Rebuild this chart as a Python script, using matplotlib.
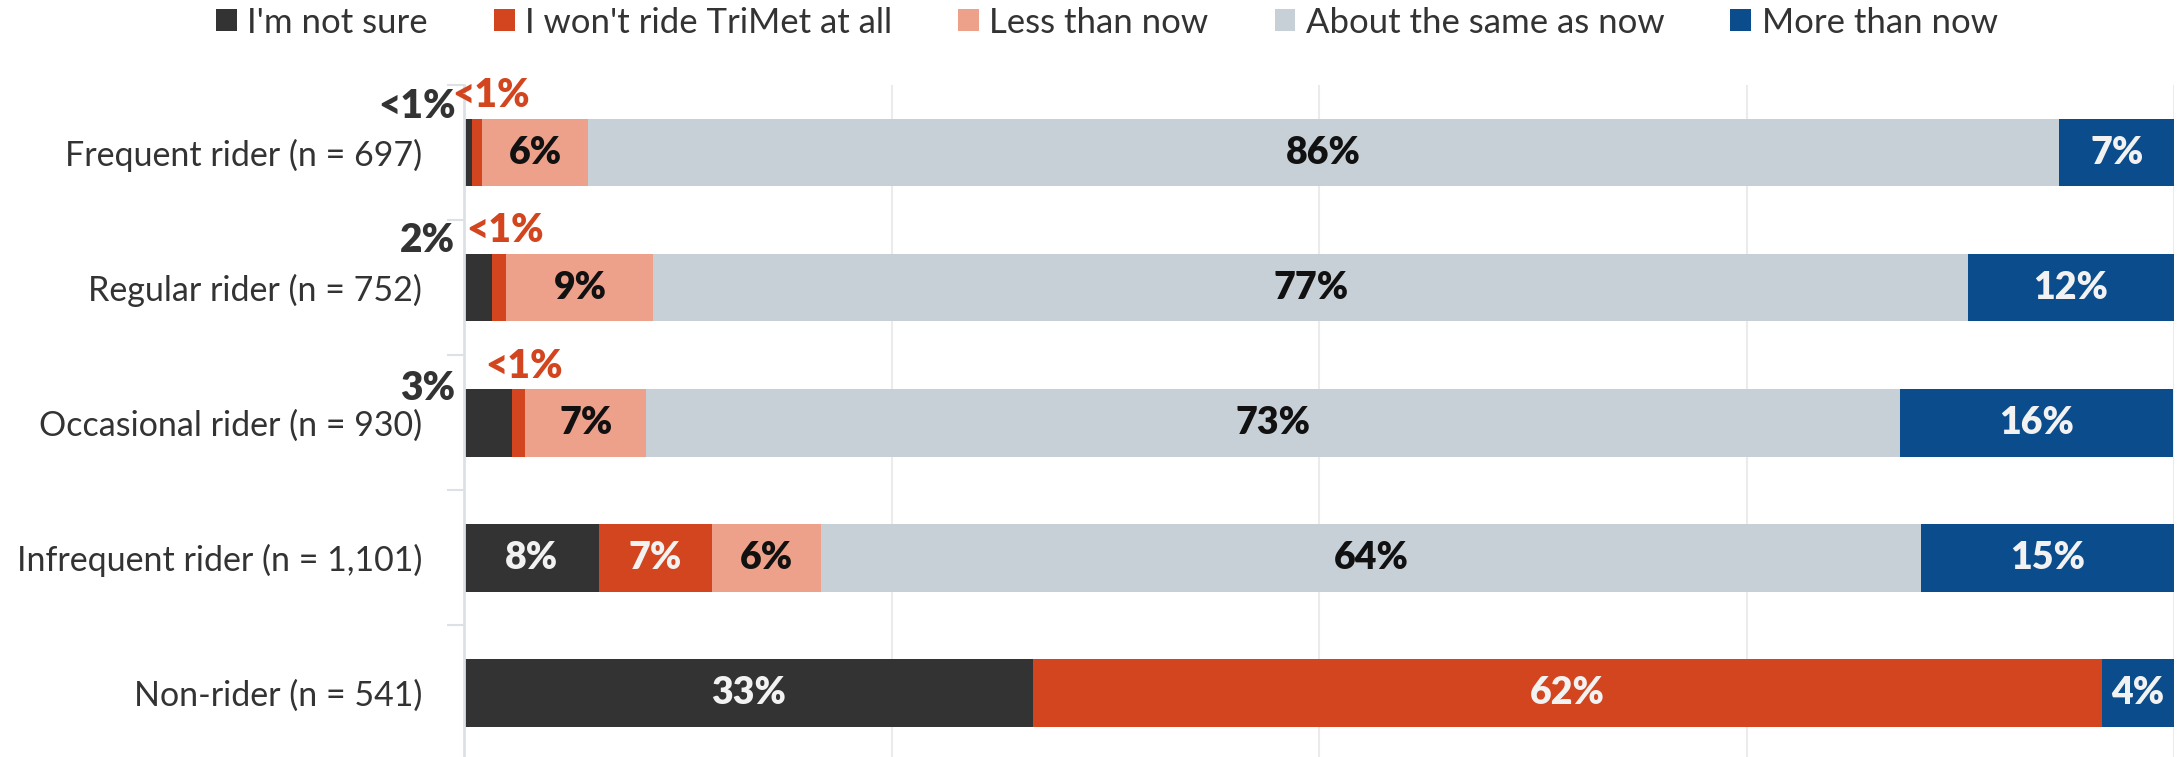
import matplotlib

matplotlib.use("Agg")

import matplotlib.pyplot as plt
from matplotlib.patches import Patch

plt.rcParams["font.family"] = ["Lato", "DejaVu Sans"]

riders = [
    "Frequent rider (n = 697)",
    "Regular rider (n = 752)",
    "Occasional rider (n = 930)",
    "Infrequent rider (n = 1,101)",
    "Non-rider (n = 541)",
]
answers = [
    "I'm not sure",
    "I won't ride TriMet at all",
    "Less than now",
    "About the same as now",
    "More than now",
]
not_sure = [0.47, 1.66, 2.83, 7.9, 33.3]
wont_ride = [0.58, 0.82, 0.74, 6.6, 62.5]
less = [6.2, 8.6, 7.1, 6.4, 0.0]
same = [86.05, 76.9, 73.3, 64.3, 0.0]
more = [6.7, 12.0, 16.0, 14.8, 4.2]

colors = ["#333333", "#D2451E", "#EDA08A", "#C8D0D7", "#0B4C8C"]
text_colors = ["#F2F2F2", "#F2F2F2", "#111111", "#111111", "#F2F2F2"]
series = [not_sure, wont_ride, less, same, more]


def pct_label(v):
    return "<1%" if v < 1 else f"{v:.0f}%"


fig = plt.figure(figsize=(21.83, 7.57), dpi=100)
ax = fig.add_axes([464 / 2183, 0.0, (2174 - 464) / 2183, (757 - 85) / 757])

ypos = list(range(len(riders)))
left = [0.0] * len(riders)
for vals, col, tcol in zip(series, colors, text_colors):
    ax.barh(ypos, vals, left=left, height=0.5, color=col, linewidth=0)
    for i, v in enumerate(vals):
        if v >= 4:
            ax.text(left[i] + v / 2, i, pct_label(v), ha="center", va="center",
                    color=tcol, fontsize=27, fontweight="heavy")
    left = [l + v for l, v in zip(left, vals)]

# small segments labelled above the bar
dark_offsets = [-0.34, -0.35, -0.25]
red_x = [1.6, 2.4, 3.5]
for i in range(3):
    ax.text(-0.5, i + dark_offsets[i], pct_label(not_sure[i]), ha="right", va="center",
            color="#333333", fontsize=28, fontweight="heavy")
    ax.text(red_x[i], i - 0.42, pct_label(wont_ride[i]), ha="center", va="center",
            color=colors[1], fontsize=28, fontweight="heavy")

ax.set_xlim(0, 100)
ax.set_ylim(len(riders) - 0.526, -0.5)
ax.set_xticks([0, 25, 50, 75, 100])
ax.tick_params(axis="x", length=0, labelbottom=False)
ax.xaxis.grid(True, color="#EBEBEB", linewidth=1.5)
ax.set_axisbelow(True)

ax.set_yticks(ypos)
ax.set_yticklabels(riders, fontsize=24.5, color="#333333")
ax.tick_params(axis="y", which="major", length=0, pad=30)
ax.set_yticks([-0.5, 0.5, 1.5, 2.5, 3.5], minor=True)
ax.tick_params(axis="y", which="minor", length=12, width=1.5, color="#DDE1E6")

for side in ["top", "right", "bottom"]:
    ax.spines[side].set_visible(False)
ax.spines["left"].set_color("#DDE1E6")
ax.spines["left"].set_linewidth(2)

handles = [Patch(facecolor=c, edgecolor="none") for c in colors]
fig.legend(handles, answers, loc="center", bbox_to_anchor=(0.507, 0.97), ncol=5,
           frameon=False, fontsize=25, handlelength=0.6, handleheight=0.6,
           handletextpad=0.3, columnspacing=1.9, labelcolor="#333333")

fig.savefig("out.png", dpi=100)
plt.close(fig)
